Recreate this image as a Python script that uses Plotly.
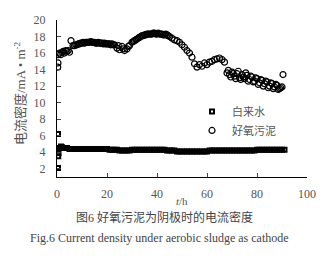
import plotly.graph_objects as go

# 好氧污泥 (aerobic sludge) series
t_sludge = [0.3, 0.4, 0.5, 1, 1.5, 2, 2.5, 3, 3.5, 4, 4.5, 5, 5.6,
            6.4, 7, 7.5, 8, 8.5, 9, 9.5, 10, 10.5, 11, 11.5, 12, 12.5, 13, 13.5, 14, 14.5,
            15, 15.5, 16, 16.5, 17, 17.5, 18, 18.5, 19, 19.5, 20, 20.5, 21, 21.5, 22, 22.5, 23,
            24, 24.5, 25, 26, 26.5, 27, 28, 28.5, 29, 30, 30.5, 31, 31.5, 32, 32.5, 33, 33.5,
            34, 34.5, 35, 35.5, 36, 36.5, 37, 37.5, 38, 38.5, 39, 39.5, 40, 40.5, 41, 41.5,
            42, 42.5, 43, 43.5, 44, 44.5, 45, 46, 47, 48, 49, 50, 51, 52, 53, 54,
            55, 56, 57, 58, 59, 60, 61, 62, 63, 64, 65, 66, 67,
            68, 68.5, 69, 69.5, 70, 70.5, 71, 71.5, 72, 72.5, 73, 73.5, 74, 74.5, 75, 75.5,
            76, 76.5, 77, 77.5, 78, 78.5, 79, 79.5, 80, 80.5, 81, 81.5, 82, 82.5, 83, 83.5,
            84, 84.5, 85, 85.5, 86, 86.5, 87, 87.5, 88, 88.5, 89, 89.5, 90, 90.4]
v_sludge = [14.3, 14.8, 15.8, 16.0, 15.8, 16.1, 16.2, 16.0, 16.3, 16.2, 16.3, 16.1, 17.5,
            16.9, 16.9, 17.0, 17.0, 17.1, 17.1, 17.2, 17.2, 17.3, 17.2, 17.3, 17.3, 17.3, 17.3, 17.4, 17.3, 17.3,
            17.3, 17.2, 17.2, 17.3, 17.2, 17.2, 17.2, 17.1, 17.2, 17.1, 17.1, 17.1, 17.1, 17.0, 17.1, 17.0, 17.0,
            16.6, 16.9, 16.4, 16.8, 16.5, 16.3, 16.5, 16.8, 16.9, 17.3, 17.4, 17.5, 17.6, 17.7, 17.8, 17.9, 18.0,
            18.1, 18.1, 18.2, 18.2, 18.3, 18.3, 18.3, 18.3, 18.3, 18.4, 18.4, 18.3, 18.3, 18.4, 18.3, 18.3,
            18.3, 18.2, 18.2, 18.3, 18.2, 18.1, 18.0, 17.8, 17.6, 17.5, 17.3, 17.0, 16.7, 16.3, 16.0, 15.5,
            14.7, 14.3, 14.6, 14.4, 14.8, 14.6, 14.9, 15.0, 15.2, 15.3, 15.4, 15.2, 14.9,
            13.6, 13.9, 13.4, 13.1, 13.7, 13.5, 13.2, 12.9, 13.5, 13.8, 13.0, 12.8, 13.4, 13.1, 12.9, 13.6,
            13.3, 12.6, 12.8, 13.2, 13.1, 12.5, 12.6, 13.0, 12.9, 12.2, 12.4, 12.8, 12.7, 12.0, 12.3, 12.6,
            12.5, 11.8, 12.0, 12.4, 12.3, 11.7, 11.9, 12.2, 12.1, 11.6, 11.7, 11.8, 11.9, 13.4]

# 白来水 (tap water) series
t_tap = [0.4, 0.5, 0.6, 0.4, 1.2, 1.6, 2, 3, 4, 5, 6, 7, 8, 9, 10, 11, 12, 13, 14, 15,
         16, 17, 18, 19, 20, 21, 22, 23, 24, 25, 26, 27, 28, 29, 30, 31, 32, 33, 34, 35,
         36, 37, 38, 39, 40, 41, 42, 43, 44, 45, 46, 47, 48, 49, 50, 51, 52, 53, 54, 55,
         56, 57, 58, 59, 60, 61, 62, 63, 64, 65, 66, 67, 68, 69, 70, 71, 72, 73, 74, 75,
         76, 77, 78, 79, 80, 81, 82, 83, 84, 85, 86, 87, 88, 89, 90, 91]
v_tap = [2.1, 3.5, 3.9, 6.2, 4.5, 4.7, 4.6, 4.5, 4.5, 4.4, 4.4, 4.4, 4.4, 4.4, 4.4, 4.4, 4.4, 4.4, 4.4, 4.4,
         4.4, 4.4, 4.4, 4.4, 4.4, 4.3, 4.3, 4.3, 4.3, 4.2, 4.2, 4.2, 4.2, 4.2, 4.3, 4.3, 4.3, 4.3, 4.3, 4.3,
         4.3, 4.3, 4.3, 4.3, 4.3, 4.3, 4.3, 4.3, 4.2, 4.2, 4.2, 4.2, 4.1, 4.1, 4.1, 4.1, 4.1, 4.1, 4.1, 4.1,
         4.1, 4.1, 4.1, 4.1, 4.1, 4.2, 4.2, 4.2, 4.2, 4.2, 4.2, 4.2, 4.2, 4.2, 4.2, 4.2, 4.2, 4.2, 4.2, 4.2,
         4.2, 4.2, 4.2, 4.2, 4.3, 4.3, 4.3, 4.3, 4.3, 4.3, 4.3, 4.3, 4.3, 4.3, 4.3, 4.3]

x_ticks = [0, 20, 40, 60, 80, 100]
y_ticks = [2, 4, 6, 8, 10, 12, 14, 16, 18, 20]

SERIF = "Liberation Serif, DejaVu Serif, Noto Sans CJK SC, serif"

fig = go.Figure()
fig.add_trace(go.Scatter(
    x=t_tap, y=v_tap, mode="markers", name="白来水",
    marker=dict(symbol="square-open", size=4, color="black", line=dict(width=2, color="black")),
))
fig.add_trace(go.Scatter(
    x=t_sludge, y=v_sludge, mode="markers", name="好氧污泥",
    marker=dict(symbol="circle-open", size=6, color="black", line=dict(width=1.2, color="black")),
))

fig.update_layout(
    width=333, height=258,
    margin=dict(l=57, r=26, t=20, b=81),
    paper_bgcolor="white", plot_bgcolor="white",
    font=dict(family=SERIF, size=12, color="#444"),
    showlegend=True,
    legend=dict(x=0.54, y=0.51, xanchor="left", yanchor="top",
                bgcolor="rgba(0,0,0,0)", font=dict(size=11, color="#555"),
                itemwidth=30, tracegroupgap=0),
    xaxis=dict(range=[0, 100], tickvals=x_ticks, ticks="inside", ticklen=4,
               showline=True, linecolor="black", linewidth=1, showgrid=False,
               zeroline=False, ticklabelstandoff=6, tickfont=dict(size=12, color="#555")),
    yaxis=dict(range=[1, 20], tickvals=y_ticks, ticks="inside", ticklen=4,
               showline=True, linecolor="black", linewidth=1, showgrid=False,
               zeroline=False, ticklabelstandoff=8, tickfont=dict(size=12, color="#555")),
    annotations=[
        dict(text="电流密度/mA • m<sup>-2</sup>", xref="paper", yref="paper",
             x=-0.148, y=0.535, xanchor="center", yanchor="middle",
             textangle=-90, showarrow=False,
             font=dict(size=13, color="#555", family=SERIF)),
        dict(text="<i>t</i>/h", xref="paper", yref="paper", x=0.5, y=-0.205,
             showarrow=False, font=dict(size=11, color="#555", family=SERIF)),
        dict(text="图6 好氧污泥为阴极时的电流密度", xref="paper", yref="paper",
             x=0.43, y=-0.32, showarrow=False, xanchor="center",
             font=dict(size=12, color="#444", family=SERIF)),
        dict(text="Fig.6 Current density under aerobic sludge as cathode", xref="paper", yref="paper",
             x=0.41, y=-0.445, showarrow=False, xanchor="center",
             font=dict(size=12, color="#444", family=SERIF)),
    ],
)

fig.write_html("out.html")
